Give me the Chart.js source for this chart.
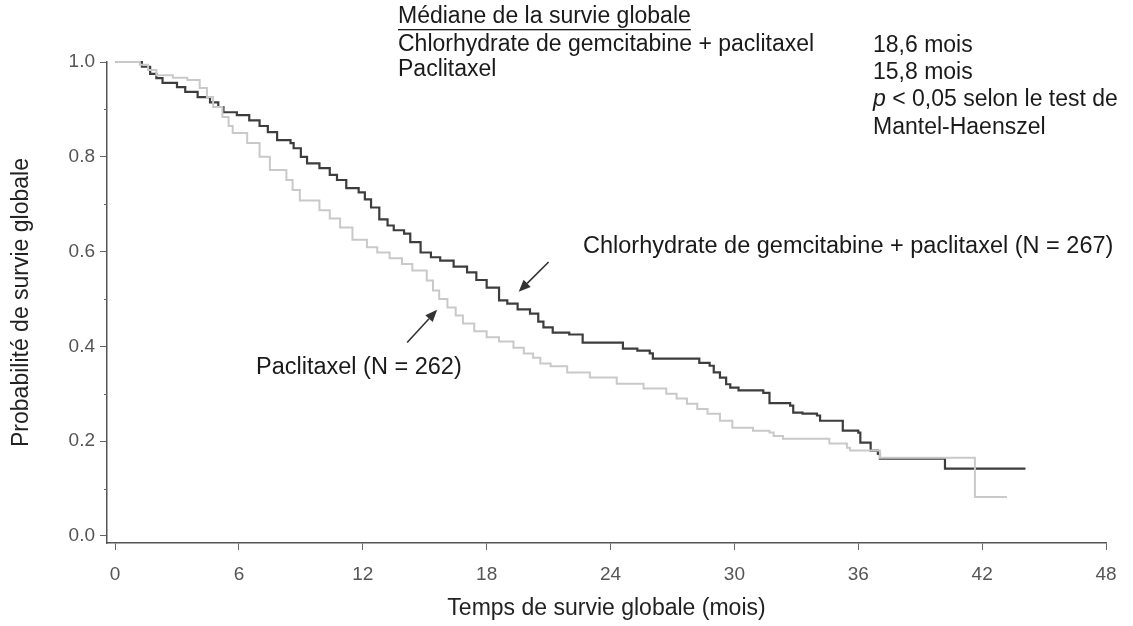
<!DOCTYPE html>
<html>
<head>
<meta charset="utf-8">
<script src="https://cdn.jsdelivr.net/npm/chart.js@4.4.1/dist/chart.umd.min.js"></script>
<style>
  body { margin: 0; background: #fff; }
  #wrap { width: 1133px; height: 626px; }
</style>
</head>
<body>
<div id="wrap"><canvas id="survivalChart" width="1133" height="626"></canvas></div>
<script>
// Kaplan-Meier steps: month of each drop, survival after it
const gemTimes = [0, 1.3, 1.7, 2.0, 2.3, 3.0, 3.4, 4.0, 4.6, 5.0, 5.25, 5.9, 6.5, 7.0, 7.4, 7.85, 8.5, 8.65, 9.0, 9.3,
  9.9, 10.4, 10.75, 11.2, 11.8, 12.1, 12.4, 12.8, 13.2, 13.5, 14.0, 14.3, 14.8, 15.3, 15.75, 16.4, 17.05, 17.5, 18.0, 18.6,
  19.0, 19.5, 20.1, 20.5, 20.75, 21.2, 22.0, 22.65, 24.6, 25.3, 25.9, 26.05, 28.3, 28.8, 29.0, 29.3, 29.6, 29.8, 30.2, 31.4,
  31.7, 32.7, 32.85, 33.3, 34.0, 34.15, 35.25, 36.0, 36.1, 36.6, 36.95, 37.05, 40.2, 44.1];
const gemSurv = [1.0, 0.99, 0.975, 0.966, 0.956, 0.947, 0.937, 0.926, 0.915, 0.905, 0.894, 0.888, 0.877, 0.865, 0.852, 0.835, 0.829, 0.818, 0.80, 0.786,
  0.776, 0.762, 0.751, 0.734, 0.725, 0.71, 0.693, 0.668, 0.655, 0.645, 0.638, 0.62, 0.598, 0.588, 0.581, 0.568, 0.556, 0.54, 0.524, 0.497,
  0.49, 0.478, 0.469, 0.452, 0.44, 0.429, 0.425, 0.408, 0.395, 0.391, 0.385, 0.374, 0.365, 0.359, 0.345, 0.334, 0.32, 0.313, 0.307, 0.302,
  0.28, 0.275, 0.26, 0.258, 0.254, 0.243, 0.222, 0.218, 0.197, 0.18, 0.173, 0.163, 0.142, 0.142];

const pacTimes = [0, 1.2, 1.6, 2.0, 2.8, 3.5, 4.1, 4.45, 4.75, 5.2, 5.5, 5.7, 6.4, 7.0, 7.5, 8.3, 8.6, 8.95, 9.9, 10.4,
  10.9, 11.5, 12.2, 12.7, 13.3, 13.9, 14.4, 15.1, 15.4, 15.7, 16.1, 16.5, 16.85, 17.4, 18.0, 18.6, 19.3, 19.8, 20.25, 20.6,
  21.1, 21.9, 23.0, 24.3, 25.6, 26.7, 27.2, 27.7, 28.2, 28.7, 29.3, 29.9, 30.9, 31.7, 31.9, 32.35, 34.6, 35.45, 35.6, 37.05,
  41.65, 43.2];
const pacSurv = [1.0, 0.994, 0.983, 0.972, 0.967, 0.962, 0.945, 0.926, 0.905, 0.884, 0.865, 0.85, 0.829, 0.80, 0.772, 0.751, 0.73, 0.708, 0.687, 0.67,
  0.651, 0.625, 0.609, 0.598, 0.586, 0.574, 0.56, 0.539, 0.518, 0.50, 0.482, 0.465, 0.448, 0.432, 0.419, 0.41, 0.397, 0.385, 0.376, 0.364,
  0.358, 0.345, 0.334, 0.321, 0.311, 0.30, 0.29, 0.279, 0.268, 0.258, 0.243, 0.228, 0.222, 0.218, 0.211, 0.205, 0.195, 0.186, 0.18, 0.165,
  0.082, 0.082];

const xTicks = [0, 6, 12, 18, 24, 30, 36, 42, 48];
const yTicks = [0, 0.2, 0.4, 0.6, 0.8, 1.0];
const yMinor = [0.1, 0.3, 0.5, 0.7, 0.9];

// arrows in data units: [tailX, tailY, headX, headY]
const gemArrow = [21.0, 0.578, 19.55, 0.515];
const pacArrow = [14.15, 0.408, 15.6, 0.477];

const FONT = "'Liberation Sans', Arial, sans-serif";
const TXT = '23px ' + FONT;

const overlay = {
  id: 'overlay',
  afterDraw(chart) {
    const ctx = chart.ctx;
    const xs = chart.scales.x, ys = chart.scales.y;

    // minor ticks on the y axis
    ctx.save();
    ctx.strokeStyle = '#666';
    ctx.lineWidth = 1;
    yMinor.forEach(v => {
      const py = Math.round(ys.getPixelForValue(v)) + 0.5;
      ctx.beginPath();
      ctx.moveTo(xs.left - 3, py);
      ctx.lineTo(xs.left, py);
      ctx.stroke();
    });

    // arrows
    ctx.strokeStyle = '#333';
    ctx.fillStyle = '#333';
    ctx.lineWidth = 1.6;
    [gemArrow, pacArrow].forEach(a => {
      const x1 = xs.getPixelForValue(a[0]), y1 = ys.getPixelForValue(a[1]);
      const x2 = xs.getPixelForValue(a[2]), y2 = ys.getPixelForValue(a[3]);
      const ang = Math.atan2(y2 - y1, x2 - x1);
      const len = 12, half = 5;
      const bx = x2 - len * Math.cos(ang), by = y2 - len * Math.sin(ang);
      ctx.beginPath();
      ctx.moveTo(x1, y1);
      ctx.lineTo(bx, by);
      ctx.stroke();
      ctx.beginPath();
      ctx.moveTo(x2, y2);
      ctx.lineTo(bx + half * Math.sin(ang), by - half * Math.cos(ang));
      ctx.lineTo(bx - half * Math.sin(ang), by + half * Math.cos(ang));
      ctx.closePath();
      ctx.fill();
    });

    // texts
    ctx.fillStyle = '#1a1a1a';
    ctx.textBaseline = 'middle';
    ctx.textAlign = 'left';
    ctx.font = '23.5px ' + FONT;
    ctx.fillText('Chlorhydrate de gemcitabine + paclitaxel (N = 267)', 583, 247);
    ctx.fillText('Paclitaxel (N = 262)', 256, 368);

    ctx.font = TXT;
    const head = 'Médiane de la survie globale';
    ctx.fillText(head, 398, 17);
    const w = ctx.measureText(head).width;
    ctx.fillRect(398, 29, w, 1.3);
    ctx.fillText('Chlorhydrate de gemcitabine + paclitaxel', 398, 45);
    ctx.fillText('Paclitaxel', 398, 70);
    ctx.fillText('18,6 mois', 873, 46);
    ctx.fillText('15,8 mois', 873, 73);
    ctx.font = 'italic ' + TXT;
    ctx.fillText('p', 873, 100);
    const pw = ctx.measureText('p').width;
    ctx.font = TXT;
    ctx.fillText(' < 0,05 selon le test de', 873 + pw, 100);
    ctx.fillText('Mantel-Haenszel', 873, 128);
    ctx.restore();
  }
};

new Chart(document.getElementById('survivalChart'), {
  type: 'line',
  data: {
    datasets: [
      {
        label: 'Paclitaxel (N = 262)',
        data: pacTimes.map((t, i) => ({ x: t, y: pacSurv[i] })),
        stepped: 'before',
        borderColor: '#c9c9c9',
        borderWidth: 2,
        pointRadius: 0,
        clip: 4
      },
      {
        label: 'Chlorhydrate de gemcitabine + paclitaxel (N = 267)',
        data: gemTimes.map((t, i) => ({ x: t, y: gemSurv[i] })),
        stepped: 'before',
        borderColor: '#3d3d3d',
        borderWidth: 2.2,
        pointRadius: 0,
        clip: 4
      }
    ]
  },
  options: {
    responsive: false,
    animation: false,
    layout: { padding: { top: 62, right: 27, left: 0, bottom: 0 } },
    plugins: { legend: { display: false }, tooltip: { enabled: false } },
    scales: {
      x: {
        type: 'linear',
        min: -0.39,
        max: 48,
        afterBuildTicks: s => { s.ticks = xTicks.map(v => ({ value: v })); },
        afterFit: s => { s.height = 83; },
        grid: { drawOnChartArea: false, tickLength: 7, color: '#666', lineWidth: 1 },
        border: { display: true, color: '#555', width: 1.5 },
        ticks: { color: '#555', font: { family: FONT, size: 19 }, padding: 13, callback: v => String(v) },
        title: { display: true, text: 'Temps de survie globale (mois)', color: '#222',
                 font: { family: FONT, size: 23 }, padding: { top: 4, bottom: 4 } }
      },
      y: {
        type: 'linear',
        min: -0.015,
        max: 1.0,
        afterBuildTicks: s => { s.ticks = yTicks.map(v => ({ value: v })); },
        afterFit: s => { s.width = 107; },
        grid: { drawOnChartArea: false, tickLength: 7, color: '#666', lineWidth: 1 },
        border: { display: true, color: '#555', width: 1.5 },
        ticks: { color: '#555', font: { family: FONT, size: 19 }, padding: 5, callback: v => v.toFixed(1) },
        title: { display: true, text: 'Probabilité de survie globale', color: '#222',
                 font: { family: FONT, size: 23 }, padding: { top: 8, bottom: 4 } }
      }
    }
  },
  plugins: [overlay]
});
</script>
</body>
</html>
